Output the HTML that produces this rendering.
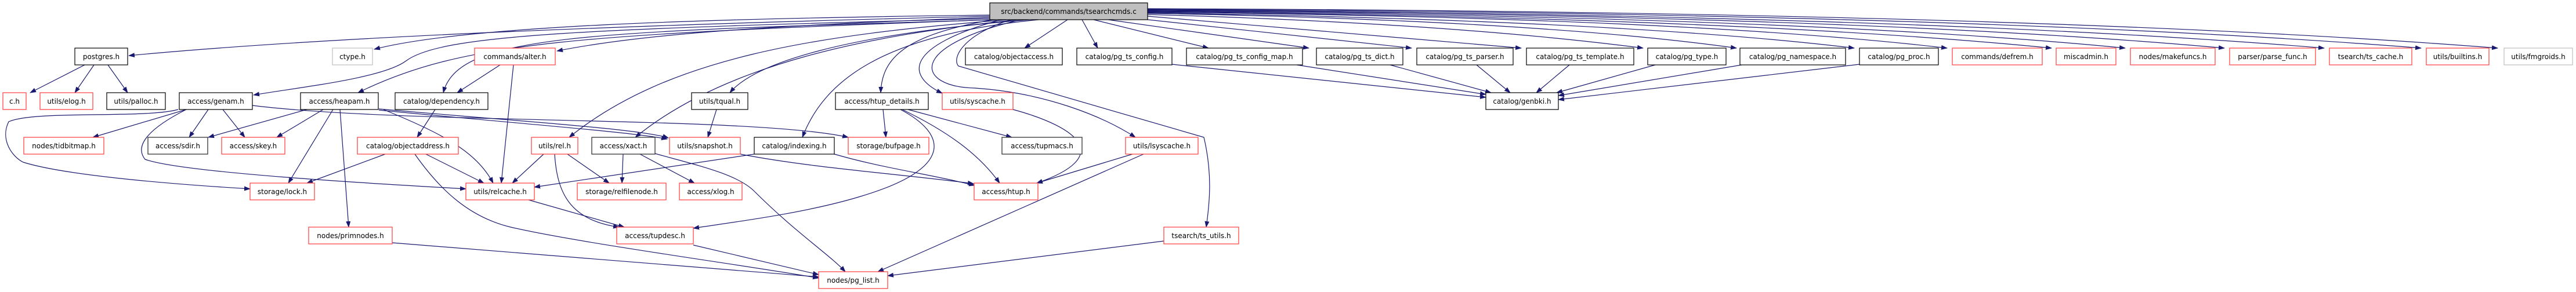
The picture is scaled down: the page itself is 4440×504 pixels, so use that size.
<!DOCTYPE html>
<html><head><meta charset="utf-8"><style>
html,body{margin:0;padding:0;background:#fff;}
svg{display:block;}
text{font-family:"DejaVu Sans","Liberation Sans",sans-serif;font-size:12px;fill:#000;}
.e{fill:none;stroke:#191970;stroke-width:1.2;}
.b{fill:#fff;stroke:#000;stroke-width:1.2;}
.r{fill:#fff;stroke:#ff3b3b;stroke-width:1.2;}
.g{fill:#fff;stroke:#bfbfbf;stroke-width:1.2;}
.d{fill:#fff;stroke:#404040;stroke-width:1.4;}
</style></head><body>
<svg width="4440" height="504" viewBox="0 0 4440 504" xmlns="http://www.w3.org/2000/svg">
<defs><marker id="a" markerWidth="11" markerHeight="8" refX="10" refY="4" orient="auto" markerUnits="userSpaceOnUse"><path d="M0,0 L11,4 L0,8 z" fill="#191970"/></marker></defs>
<g class="e" marker-end="url(#a)">
<!-- root to row1 right -->
<path d="M1840,34 L1766,83"/>
<path d="M1865,34 L1892,83"/>
<path d="M1885,34 L2083,83"/>
<path d="M1910,34 L2256,83"/>
<path d="M1960,32 L2433,83"/>
<path d="M1978,28 L2622,83"/>
<path d="M1978,25 Q2500,40 2832,83"/>
<path d="M1978,23 Q2650,35 2993,83"/>
<path d="M1978,22 Q2800,35 3196,83"/>
<path d="M1978,21 Q2900,30 3356,83"/>
<path d="M1978,20 Q3000,30 3536,83"/>
<path d="M1978,19 Q3100,28 3663,83"/>
<path d="M1978,18 Q3200,26 3834,83"/>
<path d="M1978,17 Q3300,25 4006,83"/>
<path d="M1978,16 Q3400,22 4173,83"/>
<path d="M1978,15 Q3500,20 4305,83"/>
<!-- root to left -->
<path d="M1706,28 C1200,40 600,60 222,96"/>
<path d="M1706,26 C1200,32 800,45 645,85"/>
<path d="M1706,30 C1300,45 1100,60 960,88"/>
<path d="M1706,32 C1000,50 760,60 700,105 C660,135 520,150 437,164"/>
<path d="M1708,34 C1000,60 800,70 617,160"/>
<path d="M1718,34 C1000,55 790,60 764,160"/>
<path d="M1738,34 C1400,60 1150,100 981,237"/>
<path d="M1755,34 C1500,60 1250,110 1095,237"/>
<path d="M1775,34 C1450,60 1300,110 1258,160"/>
<path d="M1790,34 C1520,60 1420,140 1383,237"/>
<path d="M1712,34 C1560,60 1520,100 1518,160"/>
<path d="M1725,34 C1560,80 1560,130 1624,161"/>
<path d="M1760,34 C1560,80 1580,150 1680,152 C1800,160 1900,200 1957,237"/>
<path d="M1742,34 C1660,60 1640,100 1652,114 L2075,237 C2090,300 2085,350 2079,392"/>
<!-- postgres -->
<path d="M146,112 L52,160"/>
<path d="M162,112 L129,160"/>
<path d="M186,112 L220,160"/>
<!-- alter -->
<path d="M862,112 L788,160"/>
<path d="M885,112 L864,316"/>
<!-- genam -->
<path d="M321,189 L160,237"/>
<path d="M359,189 L326,237"/>
<path d="M384,189 L422,237"/>
<path d="M307,189 C250,205 60,190 15,210 C0,240 20,270 40,280 C120,305 330,320 431,326"/>
<path d="M321,189 C260,220 230,250 250,275 C320,300 700,320 803,326"/>
<path d="M435,182 C700,215 1300,200 1462,237"/>
<!-- heapam -->
<path d="M529,189 L359,237"/>
<path d="M557,189 L477,237"/>
<path d="M574,189 L497,316"/>
<path d="M586,189 L601,392"/>
<path d="M661,189 C760,230 820,260 850,316"/>
<path d="M653,188 C900,210 1100,222 1152,238"/>
<path d="M653,190 C900,214 1090,228 1150,240"/>
<!-- dependency -->
<path d="M750,189 L719,237"/>
<!-- objectaddress -->
<path d="M664,266 L529,316"/>
<path d="M734,266 L834,316"/>
<path d="M715,266 C760,330 810,375 880,392 C1000,420 1300,460 1411,480"/>
<!-- rel -->
<path d="M937,266 L883,316"/>
<path d="M978,266 L1050,316"/>
<path d="M956,266 C960,330 980,380 1067,392"/>
<!-- xact -->
<path d="M1074,266 L1072,316"/>
<path d="M1103,266 L1197,316"/>
<path d="M1129,265 C1200,285 1270,300 1300,330 C1370,400 1430,440 1457,469"/>
<!-- tqual -->
<path d="M1235,189 L1220,237"/>
<!-- snapshot / indexing -->
<path d="M1276,266 C1400,290 1550,300 1678,317"/>
<path d="M1438,266 C1520,290 1600,300 1680,320"/>
<path d="M1300,266 L921,323"/>
<!-- htup_details -->
<path d="M1522,189 L1527,237"/>
<path d="M1565,189 L1744,237"/>
<path d="M1555,189 C1640,230 1690,270 1723,316"/>
<path d="M1552,189 C1630,230 1650,290 1480,340 C1380,370 1250,385 1195,394"/>
<!-- syscache/lsyscache -->
<path d="M1746,189 C1860,220 1920,270 1787,316"/>
<path d="M1952,266 L1787,316"/>
<path d="M1971,266 L1513,469"/>
<!-- lower -->
<path d="M911,345 L1076,392"/>
<path d="M1195,423 L1411,474"/>
<path d="M676,419 L1411,478"/>
<path d="M2006,416 L1530,476"/>
<!-- genbki -->
<path d="M2020,111 L2561,168"/>
<path d="M2235,112 L2561,163"/>
<path d="M2396,112 L2570,160"/>
<path d="M2545,112 L2603,160"/>
<path d="M2705,112 L2648,160"/>
<path d="M2853,112 L2683,160"/>
<path d="M3002,112 L2686,165"/>
<path d="M3205,111 L2686,172"/>
</g>
<g>
<rect x="1706" y="5" width="272" height="29" fill="#bfbfbf" stroke="#000" stroke-width="1.2"/>
<text x="1842" y="24" text-anchor="middle">src/backend/commands/tsearchcmds.c</text>
</g>
<g text-anchor="middle">
<!-- row1 y83 -->
<rect class="b" x="129" y="83" width="91" height="29"/><text x="174.5" y="102">postgres.h</text>
<rect class="g" x="573" y="83" width="69" height="29"/><text x="607.5" y="102">ctype.h</text>
<rect class="r" x="818" y="83" width="139" height="29"/><text x="887.5" y="102">commands/alter.h</text>
<rect class="b" x="1664" y="83" width="167" height="29"/><text x="1747.5" y="102">catalog/objectaccess.h</text>
<rect class="b" x="1856" y="83" width="164" height="29"/><text x="1938" y="102">catalog/pg_ts_config.h</text>
<rect class="b" x="2045" y="83" width="200" height="29"/><text x="2145" y="102">catalog/pg_ts_config_map.h</text>
<rect class="b" x="2269" y="83" width="149" height="29"/><text x="2343.5" y="102">catalog/pg_ts_dict.h</text>
<rect class="b" x="2442" y="83" width="166" height="29"/><text x="2525" y="102">catalog/pg_ts_parser.h</text>
<rect class="b" x="2631" y="83" width="185" height="29"/><text x="2723.5" y="102">catalog/pg_ts_template.h</text>
<rect class="b" x="2840" y="83" width="135" height="29"/><text x="2907.5" y="102">catalog/pg_type.h</text>
<rect class="b" x="2999" y="83" width="182" height="29"/><text x="3090" y="102">catalog/pg_namespace.h</text>
<rect class="b" x="3205" y="83" width="136" height="29"/><text x="3273" y="102">catalog/pg_proc.h</text>
<rect class="r" x="3365" y="83" width="155" height="29"/><text x="3442.5" y="102">commands/defrem.h</text>
<rect class="r" x="3544" y="83" width="103" height="29"/><text x="3595.5" y="102">miscadmin.h</text>
<rect class="r" x="3672" y="83" width="146" height="29"/><text x="3745" y="102">nodes/makefuncs.h</text>
<rect class="r" x="3843" y="83" width="148" height="29"/><text x="3917" y="102">parser/parse_func.h</text>
<rect class="r" x="4015" y="83" width="142" height="29"/><text x="4086" y="102">tsearch/ts_cache.h</text>
<rect class="r" x="4182" y="83" width="108" height="29"/><text x="4236" y="102">utils/builtins.h</text>
<rect class="g" x="4316" y="83" width="118" height="29"/><text x="4375" y="102">utils/fmgroids.h</text>
<!-- row2 y160 -->
<rect class="r" x="5" y="160" width="40" height="29"/><text x="25" y="179">c.h</text>
<rect class="r" x="69" y="160" width="91" height="29"/><text x="114.5" y="179">utils/elog.h</text>
<rect class="b" x="184" y="160" width="101" height="29"/><text x="234.5" y="179">utils/palloc.h</text>
<rect class="b" x="309" y="160" width="126" height="29"/><text x="372" y="179">access/genam.h</text>
<rect class="b" x="518" y="160" width="134" height="29"/><text x="585" y="179">access/heapam.h</text>
<rect class="b" x="681" y="160" width="160" height="29"/><text x="761" y="179">catalog/dependency.h</text>
<rect class="b" x="1192" y="160" width="97" height="29"/><text x="1240.5" y="179">utils/tqual.h</text>
<rect class="b" x="1440" y="160" width="160" height="29"/><text x="1520" y="179">access/htup_details.h</text>
<rect class="r" x="1624" y="160" width="122" height="29"/><text x="1685" y="179">utils/syscache.h</text>
<rect class="b" x="2561" y="160" width="125" height="29"/><text x="2623.5" y="179">catalog/genbki.h</text>
<!-- row3 y237 -->
<rect class="r" x="41" y="237" width="138" height="29"/><text x="110" y="256">nodes/tidbitmap.h</text>
<rect class="d" x="255" y="237" width="103" height="29"/><text x="306.5" y="256">access/sdir.h</text>
<rect class="r" x="382" y="237" width="109" height="29"/><text x="436.5" y="256">access/skey.h</text>
<rect class="r" x="616" y="237" width="174" height="29"/><text x="703" y="256">catalog/objectaddress.h</text>
<rect class="r" x="916" y="237" width="80" height="29"/><text x="956" y="256">utils/rel.h</text>
<rect class="d" x="1020" y="237" width="109" height="29"/><text x="1074.5" y="256">access/xact.h</text>
<rect class="r" x="1154" y="237" width="122" height="29"/><text x="1215" y="256">utils/snapshot.h</text>
<rect class="b" x="1300" y="237" width="138" height="29"/><text x="1369" y="256">catalog/indexing.h</text>
<rect class="r" x="1462" y="237" width="139" height="29"/><text x="1531.5" y="256">storage/bufpage.h</text>
<rect class="d" x="1727" y="237" width="138" height="29"/><text x="1796" y="256">access/tupmacs.h</text>
<rect class="r" x="1940" y="237" width="125" height="29"/><text x="2002.5" y="256">utils/lsyscache.h</text>
<!-- row4 y316 -->
<rect class="r" x="431" y="316" width="111" height="29"/><text x="486.5" y="335">storage/lock.h</text>
<rect class="r" x="803" y="316" width="118" height="29"/><text x="862" y="335">utils/relcache.h</text>
<rect class="r" x="995" y="316" width="153" height="29"/><text x="1071.5" y="335">storage/relfilenode.h</text>
<rect class="r" x="1171" y="316" width="108" height="29"/><text x="1225" y="335">access/xlog.h</text>
<rect class="r" x="1679" y="316" width="110" height="29"/><text x="1734" y="335">access/htup.h</text>
<!-- row5 y392 -->
<rect class="r" x="532" y="392" width="144" height="29"/><text x="604" y="411">nodes/primnodes.h</text>
<rect class="r" x="1063" y="392" width="132" height="29"/><text x="1129" y="411">access/tupdesc.h</text>
<rect class="r" x="2006" y="392" width="129" height="29"/><text x="2070.5" y="411">tsearch/ts_utils.h</text>
<!-- row6 -->
<rect class="r" x="1411" y="469" width="119" height="29"/><text x="1470.5" y="488">nodes/pg_list.h</text>
</g>
</svg>
</body></html>
